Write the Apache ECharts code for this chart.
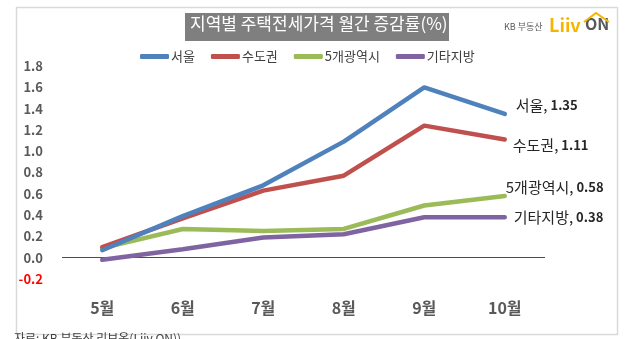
<!DOCTYPE html>
<html><head><meta charset="utf-8">
<script src="https://cdn.jsdelivr.net/npm/echarts@6/dist/echarts.min.js"></script>
<style>html,body{margin:0;padding:0;background:#fff}#c{width:626px;height:339px}</style>
</head><body><div id="c"></div>
<script>
const categories = ['5월','6월','7월','8월','9월','10월'];
const seoul = [0.07, 0.39, 0.68, 1.09, 1.60, 1.35];
const sudogwon = [0.10, 0.37, 0.63, 0.77, 1.24, 1.11];
const metro5 = [0.09, 0.27, 0.25, 0.27, 0.49, 0.58];
const others = [-0.02, 0.08, 0.19, 0.22, 0.38, 0.38];
const seriesNames = ['서울','수도권','5개광역시','기타지방'];
const colors = ['#4f81bd','#c0504d','#9bbb59','#8064a2'];
const labelOffsets = [[7,-9],[4,6],[-3,-9],[5,0]];
const FONT = '"Noto Sans CJK KR", "Noto Sans", sans-serif';

const chart = echarts.init(document.getElementById('c'));
const dataSets = [seoul, sudogwon, metro5, others];
const series = dataSets.map((d, i) => ({
  name: seriesNames[i], type: 'line', data: d, showSymbol: false, symbol: 'none',
  lineStyle: { width: 4.5, color: colors[i], cap: 'round' },
  itemStyle: { color: colors[i] },
  endLabel: {
    show: true, offset: labelOffsets[i], distance: 4,
    formatter: p => '{n|' + p.seriesName + ',}{v| ' + p.value.toFixed(2) + '}',
    rich: {
      n: { fontFamily: FONT, fontSize: 15, color: '#262626' },
      v: { fontFamily: FONT, fontSize: 13, fontWeight: 'bold', color: '#262626' }
    }
  },
  markLine: i === 0 ? { silent: true, symbol: 'none', label: { show: false },
    lineStyle: { color: '#ff0000', width: 1, type: 'solid' }, data: [{ yAxis: 0 }] } : undefined,
  z: 10 - i
}));

chart.setOption({
  animation: false,
  backgroundColor: '#fff',
  grid: { left: 62, right: 81, top: 66, bottom: 60 },
  legend: {
    data: seriesNames, top: 45, left: 135, itemGap: 16,
    icon: 'roundRect', itemWidth: 29, itemHeight: 5,
    textStyle: { fontFamily: FONT, fontSize: 13, color: '#404040', padding: [0, 0, 0, -3] }
  },
  graphic: [
    { type: 'rect', left: 14, top: 5, shape: { width: 601, height: 327 }, style: { fill: 'none', stroke: '#d9d9d9', lineWidth: 1.5 }, silent: true },
    { type: 'rect', left: 185, top: 13, shape: { width: 264, height: 28 }, style: { fill: '#7f7f7f' } },
    { type: 'text', left: 190, top: 15, style: { text: '지역별 주택전세가격 월간 증감률(%)', fill: '#ffffff', font: '17px ' + FONT } },
    { type: 'text', left: 504, top: 22, style: { text: 'KB 부동산', fill: '#595959', font: '9px ' + FONT } },
    { type: 'text', left: 549, top: 16, style: { text: 'Liiv', fill: '#f5b400', font: 'bold 18px ' + FONT } },
    { type: 'text', left: 585, top: 16, style: { text: 'ON', fill: '#595959', font: 'bold 16px ' + FONT } },
    { type: 'polyline', shape: { points: [[584,22],[596,13],[609,22]] }, style: { stroke: '#f5b400', lineWidth: 2, fill: 'none' } },
    { type: 'text', left: 14, top: 332, style: { text: '자료: KB 부동산 리브온(Liiv ON))', fill: '#404040', font: '12px ' + FONT } }
  ],
  xAxis: {
    type: 'category', data: categories, boundaryGap: true,
    axisLine: { show: false, onZero: false }, axisTick: { show: false },
    axisLabel: { margin: 21, fontFamily: FONT, fontSize: 16, fontWeight: 'bold', color: '#595959' }
  },
  yAxis: {
    type: 'value', min: -0.2, max: 1.8, interval: 0.2,
    splitLine: { show: false }, axisLine: { show: false }, axisTick: { show: false },
    axisLabel: { margin: 19, fontFamily: FONT, fontSize: 13, fontWeight: 'bold',
      color: v => (v < 0 ? '#ff0000' : '#595959'),
      formatter: v => v.toFixed(1) }
  },
  series: series
});
</script></body></html>
